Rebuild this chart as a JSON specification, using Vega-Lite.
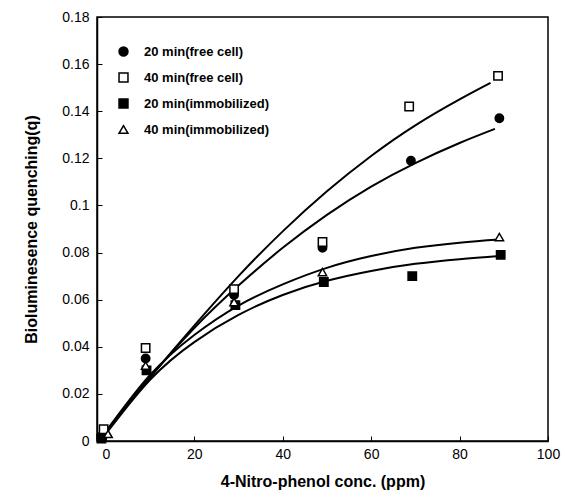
{
  "$schema": "https://vega.github.io/schema/vega-lite/v6.json",
  "autosize": "none",
  "width": 451,
  "height": 424,
  "padding": {"left": 97, "top": 17, "right": 17, "bottom": 58},
  "background": "white",
  "config": {
    "view": {"stroke": "black", "strokeWidth": 1.5},
    "font": "Liberation Sans"
  },
  "datasets": {
    "pts": [
      {"series": "20 min(free cell)", "x": -1, "q": 0.002},
      {"series": "20 min(free cell)", "x": 9, "q": 0.035},
      {"series": "20 min(free cell)", "x": 29, "q": 0.062},
      {"series": "20 min(free cell)", "x": 49, "q": 0.082},
      {"series": "20 min(free cell)", "x": 69, "q": 0.119},
      {"series": "20 min(free cell)", "x": 89, "q": 0.137},
      {"series": "40 min(free cell)", "x": -0.5, "q": 0.005},
      {"series": "40 min(free cell)", "x": 9, "q": 0.0395},
      {"series": "40 min(free cell)", "x": 29, "q": 0.0645},
      {"series": "40 min(free cell)", "x": 49, "q": 0.0845},
      {"series": "40 min(free cell)", "x": 68.6, "q": 0.142},
      {"series": "40 min(free cell)", "x": 88.7, "q": 0.155},
      {"series": "20 min(immobilized)", "x": -1, "q": 0.001},
      {"series": "20 min(immobilized)", "x": 9.2, "q": 0.030},
      {"series": "20 min(immobilized)", "x": 29.3, "q": 0.0577},
      {"series": "20 min(immobilized)", "x": 49.3, "q": 0.0675},
      {"series": "20 min(immobilized)", "x": 69.3, "q": 0.070},
      {"series": "20 min(immobilized)", "x": 89.3, "q": 0.079},
      {"series": "40 min(immobilized)", "x": 0.5, "q": 0.003},
      {"series": "40 min(immobilized)", "x": 9, "q": 0.032},
      {"series": "40 min(immobilized)", "x": 29, "q": 0.059},
      {"series": "40 min(immobilized)", "x": 49, "q": 0.0717},
      {"series": "40 min(immobilized)", "x": 89, "q": 0.0866}
    ],
    "curves": [
      {"c": "A", "x": 0, "q": 0.004}, {"c": "A", "x": 10, "q": 0.027}, {"c": "A", "x": 20, "q": 0.049},
      {"c": "A", "x": 30, "q": 0.070}, {"c": "A", "x": 40, "q": 0.089}, {"c": "A", "x": 50, "q": 0.106},
      {"c": "A", "x": 60, "q": 0.121}, {"c": "A", "x": 70, "q": 0.134}, {"c": "A", "x": 80, "q": 0.145},
      {"c": "A", "x": 87, "q": 0.152},
      {"c": "B", "x": 0, "q": 0.004}, {"c": "B", "x": 10, "q": 0.027}, {"c": "B", "x": 20, "q": 0.048},
      {"c": "B", "x": 30, "q": 0.066}, {"c": "B", "x": 40, "q": 0.082}, {"c": "B", "x": 50, "q": 0.096},
      {"c": "B", "x": 60, "q": 0.108}, {"c": "B", "x": 70, "q": 0.118}, {"c": "B", "x": 80, "q": 0.1265},
      {"c": "B", "x": 88, "q": 0.1325},
      {"c": "C", "x": 0, "q": 0.004}, {"c": "C", "x": 10, "q": 0.028}, {"c": "C", "x": 20, "q": 0.045},
      {"c": "C", "x": 30, "q": 0.0575}, {"c": "C", "x": 40, "q": 0.0665}, {"c": "C", "x": 50, "q": 0.0735},
      {"c": "C", "x": 60, "q": 0.0785}, {"c": "C", "x": 70, "q": 0.082}, {"c": "C", "x": 80, "q": 0.0842},
      {"c": "C", "x": 89, "q": 0.0855},
      {"c": "D", "x": 0, "q": 0.003}, {"c": "D", "x": 10, "q": 0.026}, {"c": "D", "x": 20, "q": 0.042},
      {"c": "D", "x": 30, "q": 0.0535}, {"c": "D", "x": 40, "q": 0.062}, {"c": "D", "x": 50, "q": 0.068},
      {"c": "D", "x": 60, "q": 0.0722}, {"c": "D", "x": 70, "q": 0.0752}, {"c": "D", "x": 80, "q": 0.0772},
      {"c": "D", "x": 89, "q": 0.0785}
    ]
  },
  "layer": [
    {
      "data": {"name": "curves"},
      "mark": {"type": "line", "interpolate": "natural", "color": "black", "strokeWidth": 2},
      "encoding": {
        "x": {"field": "x", "type": "quantitative", "scale": {"domain": [-2, 100], "nice": false, "zero": false},
          "axis": {"values": [0, 20, 40, 60, 80, 100], "title": "4-Nitro-phenol conc. (ppm)", "grid": false,
            "domain": true, "domainColor": "black", "domainWidth": 1.5, "tickColor": "black", "tickSize": -5,
            "labelFontSize": 14, "labelColor": "black", "labelPadding": 11, "titleFontSize": 16, "titleFontWeight": "bold",
            "titleColor": "black", "titlePadding": 12, "labelFlush": false}},
        "y": {"field": "q", "type": "quantitative", "scale": {"domain": [0, 0.18], "nice": false},
          "axis": {"values": [0, 0.02, 0.04, 0.06, 0.08, 0.1, 0.12, 0.14, 0.16, 0.18], "format": ".2~f",
            "title": "Bioluminesence quenching(q)", "grid": false, "domainColor": "black", "domainWidth": 1.5,
            "tickColor": "black", "tickSize": -5, "labelFontSize": 14, "labelColor": "black", "labelPadding": 13,
            "titleFontSize": 16, "titleFontWeight": "bold", "titleColor": "black", "titlePadding": 22}},
        "detail": {"field": "c"}
      }
    },
    {
      "data": {"name": "pts"},
      "mark": {"type": "point", "filled": true, "strokeWidth": 1.5, "size": 70, "opacity": 1},
      "encoding": {
        "x": {"field": "x", "type": "quantitative"},
        "y": {"field": "q", "type": "quantitative"},
        "shape": {"field": "series", "type": "nominal",
          "scale": {"domain": ["20 min(free cell)", "40 min(free cell)", "20 min(immobilized)", "40 min(immobilized)"],
            "range": ["circle", "square", "square", "triangle-up"]},
          "legend": {"title": null, "orient": "none", "legendX": 20, "legendY": 28, "labelFontSize": 13,
            "labelFontWeight": "bold", "labelColor": "black", "rowPadding": 11, "symbolSize": 80, "symbolStrokeWidth": 1.5,
            "labelOffset": 14}},
        "fill": {"field": "series", "type": "nominal",
          "scale": {"domain": ["20 min(free cell)", "40 min(free cell)", "20 min(immobilized)", "40 min(immobilized)"],
            "range": ["black", "white", "black", "white"]},
          "legend": {"title": null, "orient": "none", "legendX": 20, "legendY": 28, "labelFontSize": 13,
            "labelFontWeight": "bold", "labelColor": "black", "rowPadding": 11, "symbolSize": 80, "symbolStrokeWidth": 1.5,
            "labelOffset": 14}},
        "stroke": {"field": "series", "type": "nominal",
          "scale": {"domain": ["20 min(free cell)", "40 min(free cell)", "20 min(immobilized)", "40 min(immobilized)"],
            "range": ["black", "black", "black", "black"]},
          "legend": {"title": null, "orient": "none", "legendX": 20, "legendY": 28, "labelFontSize": 13,
            "labelFontWeight": "bold", "labelColor": "black", "rowPadding": 11, "symbolSize": 80, "symbolStrokeWidth": 1.5,
            "labelOffset": 14}}
      }
    }
  ]
}
